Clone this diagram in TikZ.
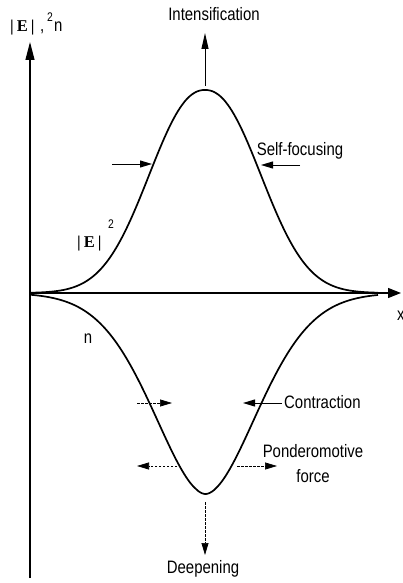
\documentclass[tikz,border=0pt]{standalone}
\usepackage{fontspec}
\setmainfont{Liberation Sans}[FakeStretch=0.83]
\newfontfamily\serifE{Liberation Serif}
\usetikzlibrary{arrows.meta}
\begin{document}
\begin{tikzpicture}[x=1pt,y=-1pt,
  lab/.style={font=\fontsize{18}{22}\selectfont, inner sep=0pt},
  ser/.style={font=\fontsize{16.5}{19}\selectfont\serifE\bfseries, inner sep=0pt},
  sup/.style={font=\fontsize{12.5}{14}\selectfont, inner sep=0pt},
  curve/.style={line width=1.7pt, line join=round},
  axisline/.style={line width=1.2pt},
  headtip/.style={-{Triangle[length=12pt,width=7pt]}},
  arr/.style={line width=1pt, headtip},
  darr/.style={line width=0.7pt, dash pattern=on 2.5pt off 1.5pt, headtip}
]
\useasboundingbox (0,0) rectangle (402,583);
% axes
\coordinate (O) at (30,293);
\coordinate (ytop) at (30,42);
\coordinate (ybot) at (30,578);
\coordinate (xend) at (401,293);
\draw[axisline] (ybot) -- (O);
\draw[axisline,-{Triangle[length=18pt,width=9pt]}] (O) -- (ytop);
\draw[axisline,-{Triangle[length=13pt,width=10pt]}] (O) -- (xend);
% curves: |E|^2 above the axis, n below it
\draw[curve] plot[domain=30:378, samples=175] (\x, {293-203*exp(0-pow((abs(\x-205)+0.01)/73.8, 2.2))});
\draw[curve] plot[domain=30:378, samples=175] (\x, {293+201*exp(0-pow((abs(\x-205.5)+0.01)/74.1, 1.81))});
% axis labels
\node[ser,anchor=base west] (ylabE) at (10,32) {|\kern3pt E\kern3pt|};
\node[sup,anchor=base west] (ysup) at (47,22) {2};
\node[lab,anchor=base west] (ycomma) at (40,32) {,};
\node[lab,anchor=base west] (yn) at (54,32) {n};
\node[lab,anchor=base west] (xlab) at (397,320) {x};
\node[ser,anchor=base west] (elab) at (77,247) {|\kern3pt E\kern3pt|};
\node[sup,anchor=base west] (esup) at (108,228) {2};
\node[lab,anchor=base] (nlab) at (88,343) {n};
% intensification
\node[lab,anchor=base] (intens) at (214,21) {Intensification};
\coordinate (peak) at (205,86);
\coordinate (intensTip) at (205,33);
\draw[line width=1pt,-{Triangle[length=16pt,width=7pt]}] (peak) -- (intensTip);
% self-focusing
\node[lab,anchor=base] (selff) at (300,155) {Self-focusing};
\coordinate (sfL0) at (112,164);
\coordinate (sfL1) at (152,164);
\draw[arr] (sfL0) -- (sfL1);
\coordinate (sfR0) at (300,165);
\coordinate (sfR1) at (261,165);
\draw[arr] (sfR0) -- (sfR1);
% contraction
\node[lab,anchor=base west] (contr) at (284,408) {Contraction};
\coordinate (ctL0) at (137,403);
\coordinate (ctL1) at (172,403);
\draw[darr] (ctL0) -- (ctL1);
\coordinate (ctR1) at (243,403);
\draw[arr] ([xshift=-2pt]contr.west |- ctR1) -- (ctR1);
% ponderomotive force
\node[lab,anchor=base] (pond) at (313,457) {Ponderomotive};
\node[lab,anchor=base] (force) at (313,482) {force};
\coordinate (pfL0) at (177,466);
\coordinate (pfL1) at (137,466);
\draw[darr] (pfL0) -- (pfL1);
\coordinate (pfR0) at (237,466);
\coordinate (pfR1) at (277,466);
\draw[darr] (pfR0) -- (pfR1);
% deepening
\node[lab,anchor=base] (deep) at (203,573) {Deepening};
\coordinate (dp0) at (205,502);
\coordinate (dp1) at (205,555);
\draw[darr] (dp0) -- (dp1);
\end{tikzpicture}
\end{document}
